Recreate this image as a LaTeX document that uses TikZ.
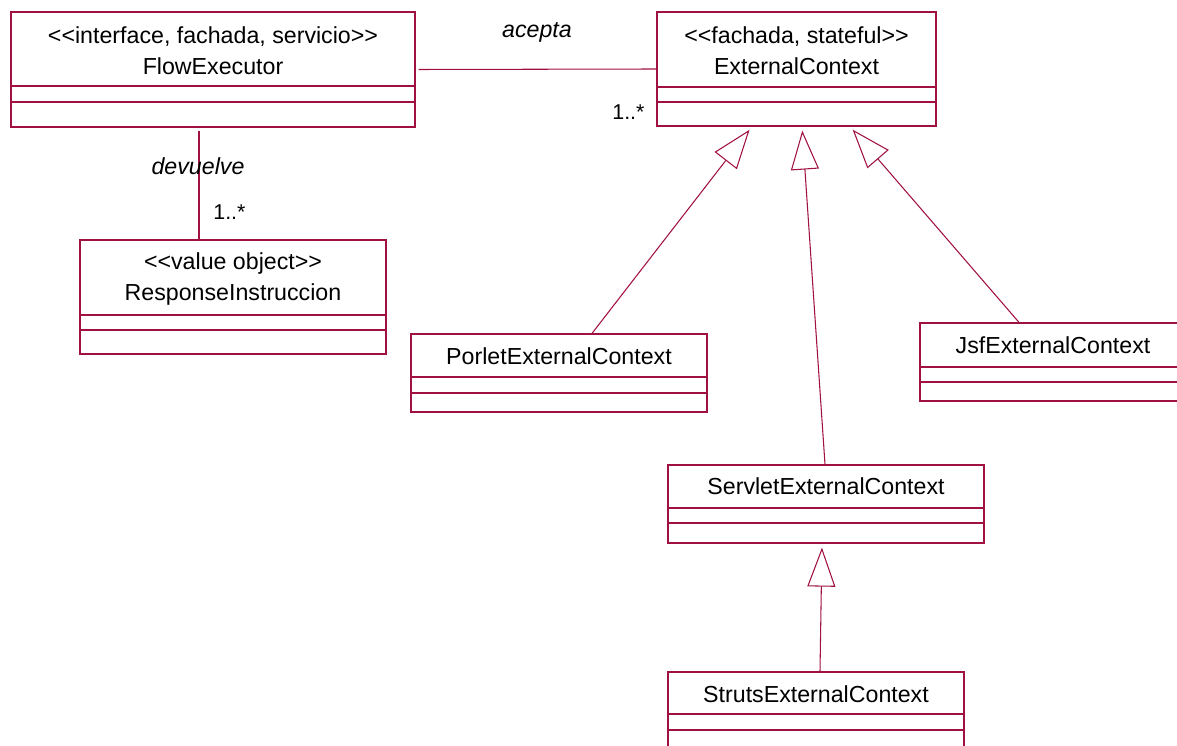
\documentclass[tikz,border=0pt]{standalone}
\usepackage{fontspec}
\usepackage{tikz}
\newfontfamily\umlfont{Liberation Sans}
\usetikzlibrary{arrows.meta}
\usetikzlibrary{fit}
\definecolor{umlred}{RGB}{160,16,64}
\tikzset{classbox/.style={draw=umlred, line width=0.7pt, inner sep=0pt},
 sepline/.style={draw=umlred, line width=0.7pt},
 classtext/.style={font=\umlfont\fontsize{13.2}{15}\selectfont, inner sep=0pt, anchor=base},
 role/.style={classtext, font=\umlfont\itshape\fontsize{13.2}{15}\selectfont},
 mult/.style={classtext, font=\umlfont\fontsize{12.2}{14}\selectfont, anchor=base west},
 assoc/.style={draw=umlred, line width=0.6pt},
 gen/.style={assoc, -{Triangle[open, length=0.78cm, width=0.56cm]}, shorten >=0.08cm},
 }

\begin{document}
\begin{tikzpicture}[x=0.02cm, y=-0.02cm]
        \useasboundingbox (0,0) rectangle (1177,746);
        \clip (0,0) rectangle (1177,746);

        % FlowExecutor
        \node[classbox, fit={(11,12) (415,127)}] (fe) {};
        \draw[sepline] (fe.west |- 0,86) -- (fe.east |- 0,86);
        \draw[sepline] (fe.west |- 0,102) -- (fe.east |- 0,102);
        \node[classtext] (fe-st) at (fe.north |- 0,44) {<<interface, fachada, servicio>>};
        \node[classtext] (fe-name) at (fe.north |- 0,75) {FlowExecutor};

        % ExternalContext
        \node[classbox, fit={(657,12) (936,126)}] (ec) {};
        \draw[sepline] (ec.west |- 0,87) -- (ec.east |- 0,87);
        \draw[sepline] (ec.west |- 0,102) -- (ec.east |- 0,102);
        \node[classtext] (ec-st) at (ec.north |- 0,44) {<<fachada, stateful>>};
        \node[classtext] (ec-name) at (ec.north |- 0,75) {ExternalContext};

        % ResponseInstruccion
        \node[classbox, fit={(80,240) (386,354)}] (ri) {};
        \draw[sepline] (ri.west |- 0,315) -- (ri.east |- 0,315);
        \draw[sepline] (ri.west |- 0,330) -- (ri.east |- 0,330);
        \node[classtext] (ri-st) at (ri.north |- 0,270) {<<value object>>};
        \node[classtext] (ri-name) at (ri.north |- 0,301) {ResponseInstruccion};

        % subclasses
        \node[classbox, fit={(411,334) (707,412)}] (pec) {};
        \draw[sepline] (pec.west |- 0,377) -- (pec.east |- 0,377);
        \draw[sepline] (pec.west |- 0,393) -- (pec.east |- 0,393);
        \node[classtext] (pec-name) at (pec.north |- 0,365) {PorletExternalContext};

        \node[classbox, fit={(920,323) (1186,401)}] (jec) {};
        \draw[sepline] (jec.west |- 0,367) -- (jec.east |- 0,367);
        \draw[sepline] (jec.west |- 0,382) -- (jec.east |- 0,382);
        \node[classtext] (jec-name) at (jec.north |- 0,354) {JsfExternalContext};

        \node[classbox, fit={(668,465) (984,543)}] (sec) {};
        \draw[sepline] (sec.west |- 0,508) -- (sec.east |- 0,508);
        \draw[sepline] (sec.west |- 0,523) -- (sec.east |- 0,523);
        \node[classtext] (sec-name) at (sec.north |- 0,495) {ServletExternalContext};

        \node[classbox, fit={(668,672) (964,750)}] (stc) {};
        \draw[sepline] (stc.west |- 0,714) -- (stc.east |- 0,714);
        \draw[sepline] (stc.west |- 0,730) -- (stc.east |- 0,730);
        \node[classtext] (stc-name) at (stc.north |- 0,702) {StrutsExternalContext};

        % associations
        \draw[assoc] ([xshift=0.06cm]fe.east) -- (ec.west);
        \node[role] (acepta) at (537,38) {acepta};
        \node[mult] (ec-mult) at (612,120) {1..*};

        \draw[assoc] ([yshift=-0.06cm]fe.south -| 199,0) -- (ri.north -| 199,0);
        \node[role] (devuelve) at (198,175) {devuelve};
        \node[mult] (ri-mult) at (213,220) {1..*};

        % generalizations
        \draw[gen] (pec.north -| 592,0) -- (ec.south -| 752,0);
        \draw[gen] (sec.north -| 825,0) -- (ec.south -| 802,0);
        \draw[gen] (jec.north -| 1019,0) -- (ec.south -| 850,0);
        \draw[gen] (stc.north -| 820,0) -- (sec.south -| 822,0);
\end{tikzpicture}
\end{document}
